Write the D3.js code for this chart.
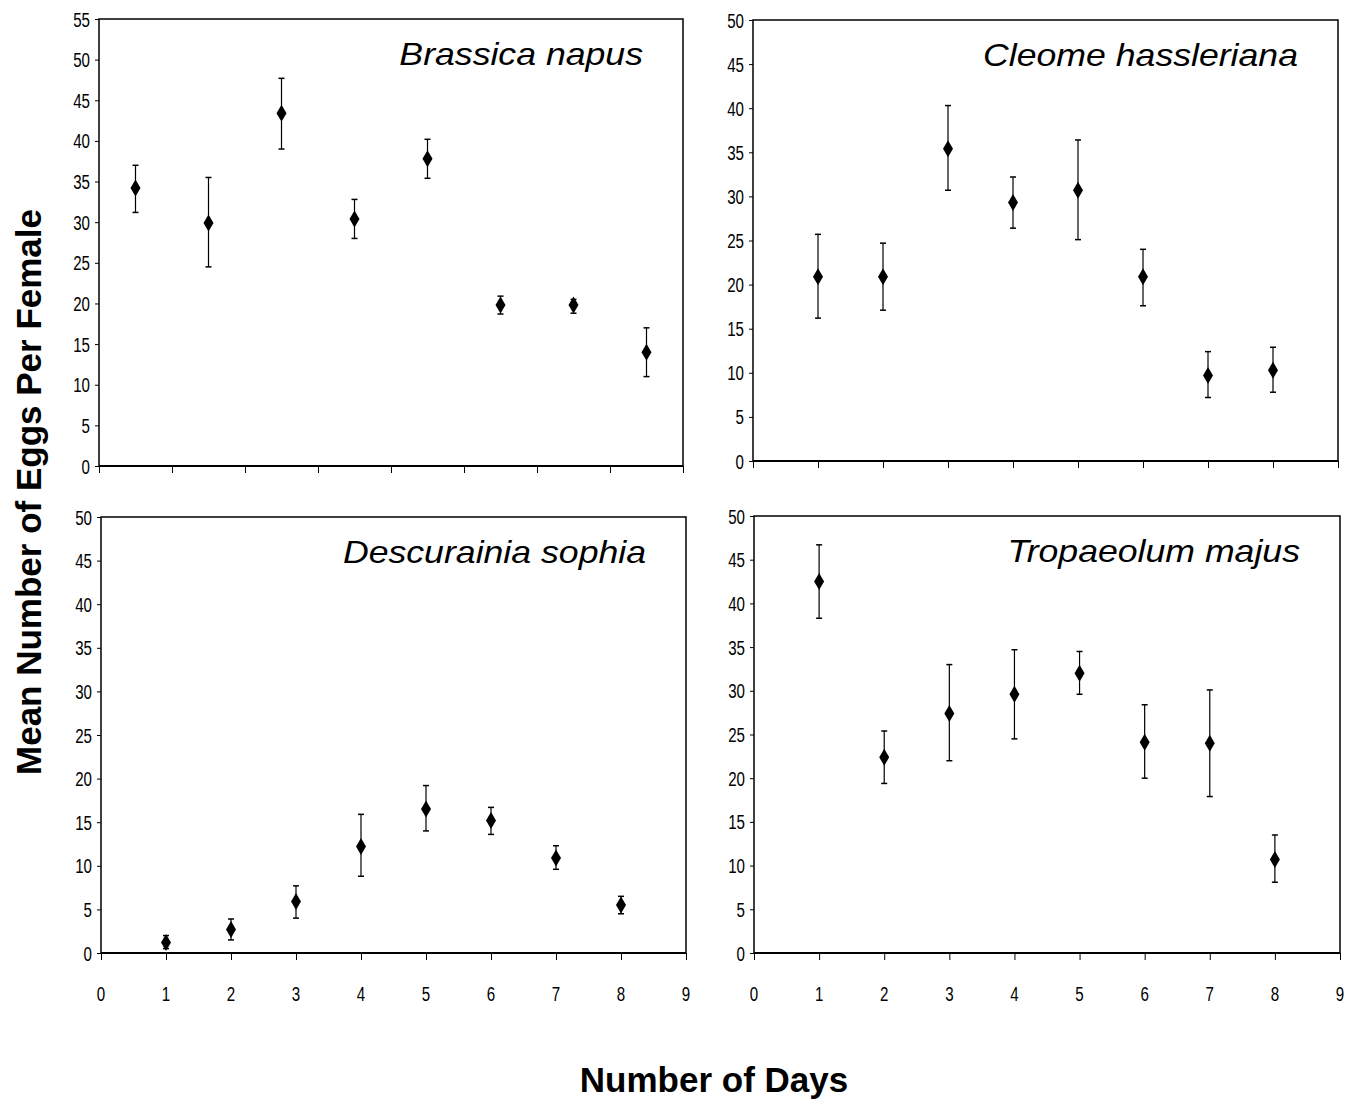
<!DOCTYPE html>
<html>
<head>
<meta charset="utf-8">
<script src="https://cdn.jsdelivr.net/npm/d3@7"></script>
<style>
    body { margin: 0; background: #fff; }
    svg text { font-family: "Liberation Sans", Arial, sans-serif; fill: #000; }
</style>
</head>
<body>
<div id="chart"></div>
<script>
// days on the x axis
const days = [1, 2, 3, 4, 5, 6, 7, 8];

// Brassica napus
const brassicaMean = [34.2, 29.9, 43.4, 30.4, 37.8, 19.8, 19.8, 14.0];
const brassicaLow  = [31.2, 24.5, 39.0, 28.0, 35.4, 18.7, 18.8, 11.0];
const brassicaHigh = [37.0, 35.5, 47.7, 32.8, 40.2, 20.9, 20.5, 17.0];

// Cleome hassleriana
const cleomeMean = [20.9, 20.9, 35.4, 29.3, 30.7, 20.9, 9.7, 10.3];
const cleomeLow  = [16.2, 17.1, 30.7, 26.4, 25.1, 17.6, 7.2, 7.8];
const cleomeHigh = [25.7, 24.7, 40.3, 32.2, 36.4, 24.0, 12.4, 12.9];

// Descurainia sophia
const descurainiaMean = [1.2, 2.7, 5.9, 12.2, 16.5, 15.2, 10.9, 5.5];
const descurainiaLow  = [0.5, 1.5, 4.0, 8.8, 14.0, 13.6, 9.6, 4.5];
const descurainiaHigh = [2.0, 3.9, 7.7, 15.9, 19.2, 16.7, 12.3, 6.5];

// Tropaeolum majus
const tropaeolumMean = [42.5, 22.4, 27.4, 29.6, 32.0, 24.1, 24.0, 10.7];
const tropaeolumLow  = [38.3, 19.4, 22.0, 24.5, 29.6, 20.0, 17.9, 8.1];
const tropaeolumHigh = [46.7, 25.4, 33.0, 34.7, 34.5, 28.4, 30.1, 13.5];

// tick labels
const yTicks55 = [0, 5, 10, 15, 20, 25, 30, 35, 40, 45, 50, 55];
const yTicks50 = [0, 5, 10, 15, 20, 25, 30, 35, 40, 45, 50];
const xTicks = [0, 1, 2, 3, 4, 5, 6, 7, 8, 9];
const xBandTicks = [0, 1, 2, 3, 4, 5, 6, 7, 8];

const panels = [
    {name: "Brassica napus", mean: brassicaMean, low: brassicaLow, high: brassicaHigh,
     yTicks: yTicks55, band: true, labels: false, box: {x0: 99, x1: 683, y0: 19, y1: 466}},
    {name: "Cleome hassleriana", mean: cleomeMean, low: cleomeLow, high: cleomeHigh,
     yTicks: yTicks50, band: false, labels: false, box: {x0: 753, x1: 1338, y0: 20, y1: 461}},
    {name: "Descurainia sophia", mean: descurainiaMean, low: descurainiaLow, high: descurainiaHigh,
     yTicks: yTicks50, band: false, labels: true, box: {x0: 101, x1: 686, y0: 517, y1: 953}},
    {name: "Tropaeolum majus", mean: tropaeolumMean, low: tropaeolumLow, high: tropaeolumHigh,
     yTicks: yTicks50, band: false, labels: true, box: {x0: 754, x1: 1340, y0: 516, y1: 953}}
];

const width = 1358;
const height = 1102;

const svg = d3.select("#chart")
    .append("svg")
    .attr("width", width)
    .attr("height", height);

svg.append("rect")
    .attr("width", width)
    .attr("height", height)
    .attr("fill", "#fff");

// diamond marker, taller than wide
const diamond = "M0,-8.5L5,0L0,8.5L-5,0Z";

panels.forEach(function(p) {
    const b = p.box;
    const g = svg.append("g");

    const yScale = d3.scaleLinear()
        .domain([0, d3.max(p.yTicks)])
        .range([b.y1, b.y0]);

    // tick positions for x
    let tickScale, xPos;
    if (p.band) {
        const band = d3.scaleBand().domain(days).range([b.x0, b.x1]);
        tickScale = d3.scaleLinear().domain([0, days.length]).range([b.x0, b.x1]);
        xPos = function(d) { return band(d) + band.bandwidth() / 2; };
    } else {
        tickScale = d3.scaleLinear().domain([0, 9]).range([b.x0, b.x1]);
        xPos = function(d) { return tickScale(d); };
    }

    // frame
    g.append("rect")
        .attr("x", b.x0)
        .attr("y", b.y0)
        .attr("width", b.x1 - b.x0)
        .attr("height", b.y1 - b.y0)
        .attr("fill", "none")
        .attr("stroke", "#000")
        .attr("stroke-width", 1.5);

    // y axis ticks
    g.append("g")
        .attr("transform", `translate(${b.x0},0)`)
        .call(d3.axisLeft(yScale).tickValues(p.yTicks).tickSize(4).tickFormat(""))
        .call(function(a) { a.select(".domain").remove(); });

    g.selectAll(".ylab")
        .data(p.yTicks)
        .enter()
        .append("text")
            .attr("class", "ylab")
            .attr("transform", function(d) { return `translate(${b.x0 - 9},${yScale(d) + 7.5}) scale(0.72,1)`; })
            .attr("text-anchor", "end")
            .attr("font-size", 21)
            .text(function(d) { return d; });

    // x axis (zero line + ticks)
    const xt = p.band ? xBandTicks : xTicks;
    g.append("g")
        .attr("transform", `translate(0,${b.y1})`)
        .call(d3.axisBottom(tickScale).tickValues(xt).tickSize(7).tickFormat(""))
        .call(function(a) { a.select(".domain").remove(); });

    g.append("line")
        .attr("x1", b.x0)
        .attr("x2", b.x1)
        .attr("y1", b.y1)
        .attr("y2", b.y1)
        .attr("stroke", "#000")
        .attr("stroke-width", 2);

    if (p.labels) {
        g.selectAll(".xlab")
            .data(xTicks)
            .enter()
            .append("text")
                .attr("class", "xlab")
                .attr("transform", function(d) { return `translate(${tickScale(d)},1001) scale(0.72,1)`; })
                .attr("text-anchor", "middle")
                .attr("font-size", 21)
                .text(function(d) { return d; });
    }

    // error bars
    const bars = g.selectAll(".err")
        .data(days)
        .enter()
        .append("g")
            .attr("class", "err");

    bars.append("line")
        .attr("x1", xPos).attr("x2", xPos)
        .attr("y1", function(d, i) { return yScale(p.low[i]); })
        .attr("y2", function(d, i) { return yScale(p.high[i]); })
        .attr("stroke", "#000")
        .attr("stroke-width", 1.2);

    ["low", "high"].forEach(function(k) {
        bars.append("line")
            .attr("x1", function(d) { return xPos(d) - 3; })
            .attr("x2", function(d) { return xPos(d) + 3; })
            .attr("y1", function(d, i) { return yScale(p[k][i]); })
            .attr("y2", function(d, i) { return yScale(p[k][i]); })
            .attr("stroke", "#000")
            .attr("stroke-width", 1.5);
    });

    // points
    g.selectAll(".pt")
        .data(days)
        .enter()
        .append("path")
            .attr("class", "pt")
            .attr("d", diamond)
            .attr("transform", function(d, i) { return `translate(${xPos(d)},${yScale(p.mean[i])})`; })
            .attr("fill", "#000");

    // species name
    g.append("text")
        .attr("transform", `translate(${b.x1 - 40},${b.y0 + 46}) scale(1.15,1)`)
        .attr("text-anchor", "end")
        .attr("font-style", "italic")
        .attr("font-size", 31)
        .text(p.name);
});

// axis titles
svg.append("text")
    .attr("transform", "translate(41,492) rotate(-90)")
    .attr("text-anchor", "middle")
    .attr("font-weight", "bold")
    .attr("font-size", 35)
    .text("Mean Number of Eggs Per Female");

svg.append("text")
    .attr("x", 714)
    .attr("y", 1092)
    .attr("text-anchor", "middle")
    .attr("font-weight", "bold")
    .attr("font-size", 35)
    .text("Number of Days");
</script>
</body>
</html>
